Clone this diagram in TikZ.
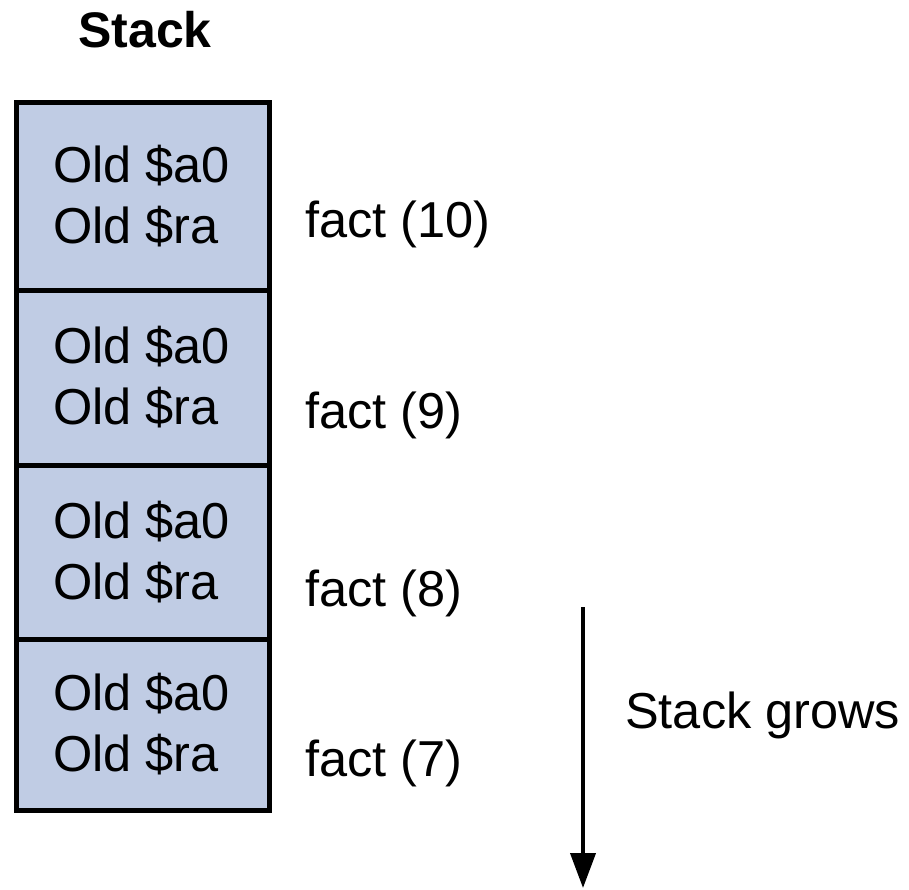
\documentclass[tikz,border=0pt]{standalone}
\usepackage{fontspec}
\setmainfont{Liberation Sans}
\usetikzlibrary{arrows.meta}
\definecolor{cellfill}{RGB}{192,204,228}
\begin{document}
\begin{tikzpicture}[x=1pt,y=-1pt,
  cell/.style={draw=black,line width=5pt,fill=cellfill,minimum width=253pt,
    inner sep=0pt,outer sep=0pt},
  lbl/.style={font=\fontsize{50.5}{61}\selectfont,inner sep=0pt},
  growarrow/.style={line width=4pt,-{Triangle[length=35pt,width=25pt]}}]
\useasboundingbox (0,0) rectangle (909,890);
% stack frames, one cell each
\node[cell,minimum height=188pt] (c1) at (143,196.5) {};
\node[cell,minimum height=174.5pt] (c2) at (143,377.75) {};
\node[cell,minimum height=174pt] (c3) at (143,552) {};
\node[cell,minimum height=171.5pt] (c4) at (143,724.75) {};
% title
\node[lbl,font=\fontsize{50}{61}\selectfont\bfseries,anchor=base] (title) at (145,48) {Stack};
% saved registers in each frame, left aligned
\foreach \c in {c1,c2,c3,c4}{
  \node[lbl,anchor=base west] (\c a) at ([xshift=-90pt,yshift=14pt]\c.center) {Old \$a0};
  \node[lbl,anchor=base west] (\c r) at ([xshift=-90pt,yshift=-47pt]\c.center) {Old \$ra};
}
% call labels
\node[lbl,anchor=base west] (f10) at (305,238) {fact (10)};
\node[lbl,anchor=base west] (f9) at (305,428) {fact (9)};
\node[lbl,anchor=base west] (f8) at (305,606) {fact (8)};
\node[lbl,anchor=base west] (f7) at (305,776) {fact (7)};
% growth direction
\coordinate (gtop) at (583,607);
\coordinate (gbot) at (583,888);
\draw[growarrow] (gtop) -- (gbot);
\node[lbl,anchor=base west] (grows) at (625,728) {Stack grows};
\end{tikzpicture}
\end{document}
